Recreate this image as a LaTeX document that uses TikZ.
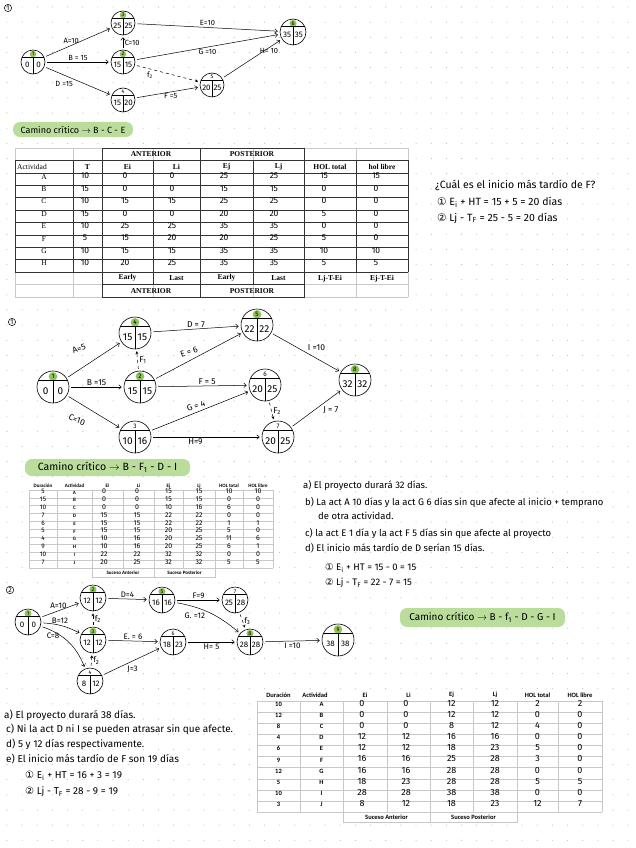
\documentclass[tikz,border=0pt]{standalone}
\usepackage{fontspec}
\setmainfont{Fira Sans}
\newfontfamily\tabserif{Liberation Serif}
\newfontfamily\tabsans{Carlito}
\newfontfamily\symfont{DejaVu Sans}
\usetikzlibrary{arrows.meta,calc}
\definecolor{critGreen}{RGB}{141,198,84}
\definecolor{pillGreen}{RGB}{186,221,156}
\definecolor{dotGray}{RGB}{185,185,185}
\definecolor{gridGray}{RGB}{200,200,200}
\tikzset{
  suceso/.style={circle, draw=black, fill=white, line width=0.6pt, inner sep=0pt},
  divide/.style={line width=0.5pt},
  numtop/.style={font=\fontsize{5.5}{6}\selectfont, inner sep=0pt},
  valor/.style={font=\fontsize{8}{8}\selectfont, inner sep=0pt},
  act/.style={->, >={Straight Barb[length=2.6pt,width=4.5pt]}, line width=0.5pt,
              shorten >=2pt, shorten <=2pt},
  ficticia/.style={act, dashed, >={Stealth[length=3pt,width=3pt]}},
  lbl/.style={font=\fontsize{7.5}{8}\selectfont, inner sep=1.5pt},
  seccion/.style={circle, draw, line width=0.5pt, inner sep=0.6pt, font=\fontsize{7}{7}\selectfont},
  camino/.style={rounded corners=7pt, fill=pillGreen, font=\fontsize{9}{9}\selectfont, inner sep=2pt},
  nota/.style={anchor=west, inner sep=0pt, font=\fontsize{9.5}{10}\selectfont},
  mano/.style={inner sep=0pt, font=\fontsize{8.5}{8}\selectfont},
  tgrid/.style={draw=gridGray, line width=0.4pt},
  tdark/.style={draw=black!80, line width=0.6pt},
  headA/.style={inner sep=0pt, font=\tabserif\bfseries\fontsize{7.5}{8}\selectfont},
  headB/.style={inner sep=0pt, font=\tabsans\bfseries\fontsize{5}{6}\selectfont},
  headC/.style={inner sep=0pt, font=\tabsans\bfseries\fontsize{6.5}{7}\selectfont}
}
% nombre, x, y, radio, numero, Ei, Li, relleno
\newcommand{\evento}[8]{%
  \node[suceso, minimum size=2*#4] (#1) at (#2,#3) {};
  \fill[#8] ($(#1)+(0,-0.66*#4)$) circle ({0.27*#4pt});
  \draw[divide] (#1.24) -- (#1.156);
  \draw[divide] ($(#1)+(0,-0.4*#4)$) -- (#1.south);
  \node[numtop] at ($(#1)+(0,-0.66*#4)$) {#5};
  \node[valor] at ($(#1)+(-0.46*#4,0.25*#4)$) {#6};
  \node[valor] at ($(#1)+(0.46*#4,0.25*#4)$) {#7};
}
\newcommand{\cn}[1]{{\symfont #1}}

\begin{document}
\begin{tikzpicture}[x=1pt, y=-1pt]
\useasboundingbox (0,0) rectangle (636,848);
\fill[white] (0,0) rectangle (636,848);
% puntos de la hoja
\foreach \i in {0,...,41}
  \foreach \j in {0,...,55}
    \fill[dotGray] ({7+15.15*\i},{7+15.15*\j}) circle (0.55pt);

% ===== ejercicio 1 (red) =====
\node[seccion] (s1) at (8,8) {1};
\evento{a1}{33}{62}{12}{1}{0}{0}{critGreen}
\evento{a3}{123}{23}{12}{3}{25}{25}{critGreen}
\evento{a2}{123}{62}{12}{2}{15}{15}{critGreen}
\evento{a4}{123}{100}{12}{4}{15}{20}{white}
\evento{a5}{212}{85}{12}{5}{20}{25}{white}
\evento{a6}{293}{32}{13}{6}{35}{35}{critGreen}
\draw[act] (a1) -- node[lbl, above, pos=0.4] {A=10} (a3);
\draw[act] (a1) -- node[lbl, above] {B = 15} (a2);
\draw[act] (a1) -- node[lbl, below left, pos=0.45] {D =15} (a4);
\draw[act] (a2) -- node[lbl, right] {C=10} (a3);
\draw[act] (a3) -- node[lbl, above] {E=10} (a6);
\draw[act] (a2) -- node[lbl, below, pos=0.5] {G =10} (a6);
\draw[ficticia] (a2) -- node[lbl, below left, pos=0.3] {f\textsubscript{2}} (a5);
\draw[act] (a4) -- node[lbl, below, pos=0.55] {F =5} (a5);
\draw[act] (a5) -- node[lbl, above right, pos=0.6] {H= 10} (a6);
\node[camino, minimum width=120, minimum height=15] (cc1) at (73,129.5)
  {Camino crítico $\rightarrow$ B - C - E};

% tabla 1
\fill[white] (15,148) rectangle (408,296.8);
\foreach \x in {15,73,102,153,200,253,304,356,408}
  \draw[tgrid] (\x,148) -- (\x,296.8);
\foreach \i in {0,...,12}
  \draw[tgrid] (15,{148+12.4*\i}) -- (408,{148+12.4*\i});
\foreach \i in {0,...,9}
  \draw[tdark] (15,{160.4+12.4*\i}) -- (408,{160.4+12.4*\i});
\foreach \x in {15,73,102,153,200,253,304,356,408}
  \draw[tdark] (\x,160.4) -- (\x,272);
\draw[tdark] (102,148) rectangle (200,160.4) (200,148) rectangle (304,160.4);
\draw[tdark] (102,272) rectangle (153,284.4) (153,272) rectangle (200,284.4)
             (200,272) rectangle (253,284.4) (253,272) rectangle (304,284.4);
\draw[tdark] (102,284.4) rectangle (200,296.8) (200,284.4) rectangle (304,296.8);
\node[headA] at (151,154.2) {ANTERIOR};
\node[headA] at (252,154.2) {POSTERIOR};
\node[headA, font=\tabserif\fontsize{7.5}{8}\selectfont, anchor=west] at (17,166.6) {Actividad};
\foreach \h/\x in {T/87.5, Ei/127.5, Li/176.5, Ej/226.5, Lj/278.5, HOL total/330, hol libre/382}
  \node[headA] at (\x,166.6) {\h};
\foreach \ac/\t/\ei/\li/\ej/\lj/\ht/\hl [count=\r] in
  {A/10/0/0/25/25/15/15, B/15/0/0/15/15/0/0, C/10/15/15/25/25/0/0, D/15/0/0/20/20/5/0,
   E/10/25/25/35/35/0/0, F/5/15/20/20/25/5/0, G/10/15/15/35/35/10/10, H/10/20/25/35/35/5/5}{
  \pgfmathsetmacro\yy{166.6+12.4*\r}
  \node[headA, font=\tabserif\fontsize{7.5}{8}\selectfont] at (44,\yy) {\ac};
  \node[mano] at (85,\yy) {\t};
  \node[mano] at (125,\yy) {\ei};
  \node[mano] at (172,\yy) {\li};
  \node[mano] at (224,\yy) {\ej};
  \node[mano] at (274,\yy) {\lj};
  \node[mano] at (324,\yy) {\ht};
  \node[mano] at (376,\yy) {\hl};
}
\foreach \h/\x in {Early/127.5, Last/176.5, Early/226.5, Last/278.5, Lj-T-Ei/330, Ej-T-Ei/382}
  \node[headA] at (\x,278.2) {\h};
\node[headA] at (151,290.6) {ANTERIOR};
\node[headA] at (252,290.6) {POSTERIOR};

\node[nota, font=\fontsize{10.5}{11}\selectfont] (q1) at (435,185) {¿Cuál es el inicio más tardío de F?};
\node[nota, font=\fontsize{10.5}{11}\selectfont] (q1a) at (437,202)
  {\cn{①} E\textsubscript{i} + HT = 15 + 5 = 20 días};
\node[nota, font=\fontsize{10.5}{11}\selectfont] (q1b) at (437,218)
  {\cn{②} Lj - T\textsubscript{F} = 25 - 5 = 20 días};

% ===== ejercicio 1 (segunda red) =====
\node[seccion] (s2) at (12,322) {1};
\begin{scope}[valor/.style={inner sep=0pt, font=\fontsize{10}{10}\selectfont},
              numtop/.style={inner sep=0pt, font=\fontsize{6.5}{7}\selectfont},
              lbl/.style={font=\fontsize{8.5}{9}\selectfont, inner sep=1.5pt}]
\evento{b1}{53}{387}{16}{1}{0}{0}{critGreen}
\evento{b4}{135}{333}{16}{4}{15}{15}{critGreen}
\evento{b2}{140}{387}{16}{2}{15}{15}{critGreen}
\evento{b3}{135}{437}{16}{3}{10}{16}{white}
\evento{b5}{257}{325}{16}{5}{22}{22}{critGreen}
\evento{b6}{265}{385}{16}{6}{20}{25}{white}
\evento{b7}{278}{437}{16}{7}{20}{25}{white}
\evento{b8}{355}{380}{16}{8}{32}{32}{critGreen}
\draw[act] (b1) -- (b4);
\node[lbl, rotate=20] (lA) at (79,349) {A=5};
\draw[act] (b1) -- node[lbl, above] {B =15} (b2);
\draw[act] (b1) -- (b3);
\node[lbl, rotate=-20] (lC) at (77,420) {C=10};
\draw[ficticia] (b2) -- node[lbl, right] {F\textsubscript{1}} (b4);
\draw[act] (b4) -- node[lbl, above] {D = 7} (b5);
\draw[act] (b2) -- (b5);
\node[lbl, rotate=20] (lE) at (189,352) {E = 6};
\draw[act] (b2) -- node[lbl, above, pos=0.55] {F = 5} (b6);
\draw[act] (b3) -- (b6);
\node[lbl, rotate=20] (lG) at (196,406) {G = 4};
\draw[act] (b3) -- node[lbl, below, pos=0.4] {H=9} (b7);
\draw[ficticia] (b6) -- node[lbl, right] {F\textsubscript{2}} (b7);
\draw[act] (b5) -- node[lbl, above right, pos=0.5] {I =10} (b8);
\draw[act] (b7) -- node[lbl, below right, pos=0.6] {J = 7} (b8);
\end{scope}
\node[camino, minimum width=165, minimum height=17, font=\fontsize{10.5}{11}\selectfont] (cc2) at (107.5,467.5)
  {Camino crítico $\rightarrow$ B - F\textsubscript{1} - D - I};

% tabla 2
\fill[white] (29,490) rectangle (273,568);
\foreach \h/\x in {Duración/43, Actividad/74.5, Ei/107.5, Li/138.5, Ej/168.5, Lj/199, HOL total/229, HOL libre/258}
  \node[headB] at (\x,486) {\h};
\foreach \x in {29,57,92,123,154,183,215,243,273}
  \draw[tgrid] (\x,490) -- (\x,568);
\foreach \i in {0,...,10}
  \draw[tgrid] (29,{490+7.8*\i}) -- (273,{490+7.8*\i});
\draw[tgrid] (92,568) rectangle (154,577) (154,568) rectangle (215,577);
\node[headB] at (123,572.5) {Suceso Anterior};
\node[headB] at (184.5,572.5) {Suceso Posterior};
\foreach \du/\ac/\ei/\li/\ej/\lj/\ht/\hl [count=\r from 0] in
  {5/A/0/0/15/15/10/10, 15/B/0/0/15/15/0/0, 10/C/0/0/10/16/6/0, 7/D/15/15/22/22/0/0,
   6/E/15/15/22/22/1/1, 5/F/15/15/20/25/5/0, 4/G/10/16/20/25/11/6, 9/H/10/16/20/25/6/1,
   10/I/22/22/32/32/0/0, 7/J/20/25/32/32/5/5}{
  \pgfmathsetmacro\yy{494+7.8*\r}
  \node[mano, font=\fontsize{6.5}{6}\selectfont] at (43,\yy) {\du};
  \node[headB] at (74.5,\yy) {\ac};
  \node[mano, font=\fontsize{7}{6}\selectfont] at (104,\yy) {\ei};
  \node[mano, font=\fontsize{7}{6}\selectfont] at (137,\yy) {\li};
  \node[mano, font=\fontsize{7}{6}\selectfont] at (168.5,\yy) {\ej};
  \node[mano, font=\fontsize{7}{6}\selectfont] at (199,\yy) {\lj};
  \node[mano, font=\fontsize{7}{6}\selectfont] at (229,\yy) {\ht};
  \node[mano, font=\fontsize{7}{6}\selectfont] at (258,\yy) {\hl};
}

\node[nota] (r2a) at (303,485) {a) El proyecto durará 32 días.};
\node[nota] (r2b) at (305,502) {b) La act A 10 días y la act G 6 días sin que afecte al inicio + temprano};
\node[nota] (r2b2) at (318,516) {de otra actividad.};
\node[nota] (r2c) at (305,533) {c) la act E 1 día y la act F 5 días sin que afecte al proyecto};
\node[nota] (r2d) at (305,548) {d) El inicio más tardío de D serían 15 días.};
\node[nota] (r2e) at (325,568) {\cn{①} E\textsubscript{i} + HT = 15 - 0 = 15};
\node[nota] (r2f) at (325,583) {\cn{②} Lj - T\textsubscript{F} = 22 - 7 = 15};

% ===== ejercicio 2 =====
\node[seccion] (s3) at (10,590) {2};
\begin{scope}[lbl/.style={font=\fontsize{8}{8}\selectfont, inner sep=1.5pt}]
\evento{c1}{28}{622}{13}{1}{0}{0}{critGreen}
\evento{c2}{93}{598}{13}{2}{12}{12}{critGreen}
\evento{c3}{93}{640}{13}{3}{12}{12}{critGreen}
\evento{c4}{90}{681}{13}{4}{8}{12}{white}
\evento{c5}{162}{600}{13}{5}{16}{16}{critGreen}
\evento{c7}{235}{600}{13}{7}{25}{28}{white}
\evento{c6}{173}{642}{13}{6}{18}{23}{white}
\evento{c8}{250}{642}{13}{8}{28}{28}{critGreen}
\evento{c9}{338}{640}{16}{9}{38}{38}{critGreen}
\draw[act] (c1) -- node[lbl, above, pos=0.45] {A=10} (c2);
\draw[act] (c1) to[bend left=12] node[lbl, above, pos=0.45] {B=12} (c3);
\draw[act] (c1) to[bend left=25] node[lbl, left, pos=0.35] {C=8} (c4);
\draw[ficticia] (c3) -- node[lbl, right] {f\textsubscript{2}} (c2);
\draw[ficticia] (c4) -- node[lbl, right] {f\textsubscript{2}} (c3);
\draw[act] (c2) -- node[lbl, above] {D=4} (c5);
\draw[act] (c5) -- node[lbl, above] {F=9} (c7);
\draw[act] (c5) to[bend left=15] node[lbl, below left, pos=0.45] {G. =12} (c8);
\draw[ficticia] (c7) -- node[lbl, right] {f\textsubscript{3}} (c8);
\draw[act] (c3) -- node[lbl, above] {E. = 6} (c6);
\draw[act] (c4) -- node[lbl, below right, pos=0.4] {J=3} (c6);
\draw[act] (c6) -- node[lbl, below] {H= 5} (c8);
\draw[act] (c8) -- node[lbl, below] {I =10} (c9);
\end{scope}
\node[camino, minimum width=165, minimum height=19, font=\fontsize{10}{10}\selectfont] (cc3) at (482.5,617.5)
  {Camino crítico $\rightarrow$ B - f\textsubscript{1} - D - G - I};

\begin{scope}[nota/.style={anchor=west, inner sep=0pt, font=\fontsize{10}{10}\selectfont}]
\node[nota] (r3a) at (4,715) {a) El proyecto durará 38 días.};
\node[nota] (r3c) at (6,729) {c) Ni la act D ni I se pueden atrasar sin que afecte.};
\node[nota] (r3d) at (6,744) {d) 5 y 12 días respectivamente.};
\node[nota] (r3e) at (6,759) {e) El inicio más tardío de F son 19 días};
\node[nota] (r3f) at (25,776) {\cn{①} E\textsubscript{i} + HT = 16 + 3 = 19};
\node[nota] (r3g) at (25,792) {\cn{②} Lj - T\textsubscript{F} = 28 - 9 = 19};
\end{scope}

% tabla 3
\fill[white] (257,701) rectangle (602,812);
\foreach \h/\x in {Duración/278.5, Actividad/315, Ei/365, Li/408.5, Ej/451.5, Lj/495, HOL total/537.5, HOL libre/580}
  \node[headC] at (\x,695) {\h};
\foreach \x in {257,300,343,387,430,473,517,558,602}
  \draw[tgrid] (\x,701) -- (\x,812);
\foreach \i in {0,...,10}
  \draw[tgrid] (257,{701+11.1*\i}) -- (602,{701+11.1*\i});
\draw[tgrid] (343,812) rectangle (430,822) (430,812) rectangle (517,822);
\node[headC] at (386.5,817) {Suceso Anterior};
\node[headC] at (473.5,817) {Suceso Posterior};
\foreach \du/\ac/\ei/\li/\ej/\lj/\ht/\hl [count=\r from 0] in
  {10/A/0/0/12/12/2/2, 12/B/0/0/12/12/0/0, 8/C/0/0/8/12/4/0, 4/D/12/12/16/16/0/0,
   6/E/12/12/18/23/5/0, 9/F/16/16/25/28/3/0, 12/G/16/16/28/28/0/0, 5/H/18/23/28/28/5/5,
   10/I/28/28/38/38/0/0, 3/J/8/12/18/23/12/7}{
  \pgfmathsetmacro\yy{706.5+11.1*\r}
  \node[headC] at (278.5,\yy) {\du};
  \node[headC] at (321.5,\yy) {\ac};
  \node[mano, font=\fontsize{9}{8}\selectfont] at (362,\yy) {\ei};
  \node[mano, font=\fontsize{9}{8}\selectfont] at (406,\yy) {\li};
  \node[mano, font=\fontsize{9}{8}\selectfont] at (451.5,\yy) {\ej};
  \node[mano, font=\fontsize{9}{8}\selectfont] at (495,\yy) {\lj};
  \node[mano, font=\fontsize{9}{8}\selectfont] at (537.5,\yy) {\ht};
  \node[mano, font=\fontsize{9}{8}\selectfont] at (580,\yy) {\hl};
}
\end{tikzpicture}
\end{document}
